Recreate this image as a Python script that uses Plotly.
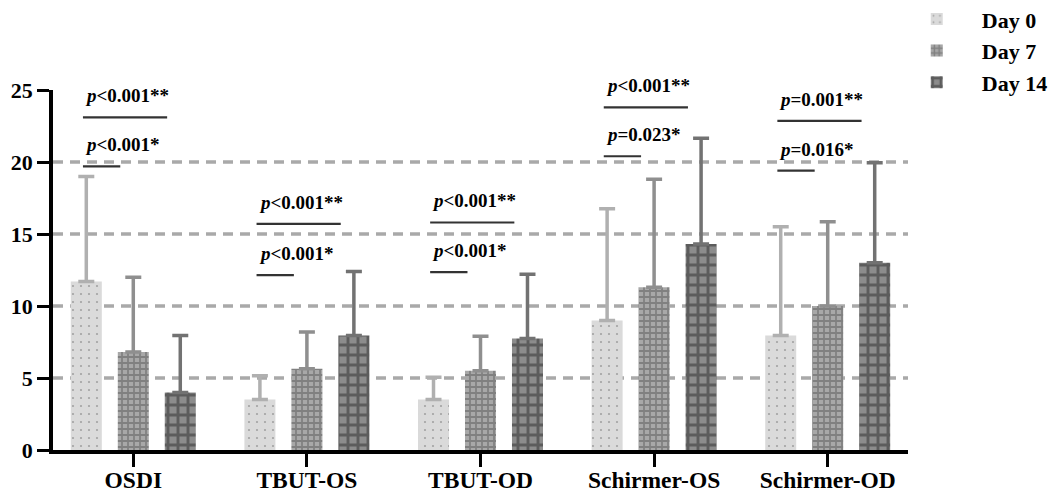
import plotly.graph_objects as go

CATEGORIES = ["OSDI", "TBUT-OS", "TBUT-OD", "Schirmer-OS", "Schirmer-OD"]
SERIES = ["Day 0", "Day 7", "Day 14"]

DAY0_MEAN = [11.7, 3.5, 3.5, 9.0, 7.95]
DAY0_SD = [7.3, 1.65, 1.55, 7.75, 7.55]
DAY7_MEAN = [6.8, 5.65, 5.5, 11.3, 10.0]
DAY7_SD = [5.2, 2.55, 2.4, 7.5, 5.85]
DAY14_MEAN = [4.0, 7.95, 7.75, 14.3, 13.0]
DAY14_SD = [3.95, 4.45, 4.45, 7.35, 6.95]

Y_TICKS = [0, 5, 10, 15, 20, 25]
GRID_VALUES = [5, 10, 15, 20]

# significance brackets (Day0 vs Day14 = long, Day0 vs Day7 = short)
LONG_Y = [23.1, 15.7, 15.8, 23.8, 22.85]
SHORT_Y = [19.7, 12.15, 12.35, 20.4, 19.4]
LONG_TEXT = ["<0.001**", "<0.001**", "<0.001**", "<0.001**", "=0.001**"]
SHORT_TEXT = ["<0.001*", "<0.001*", "<0.001*", "=0.023*", "=0.016*"]

FONT = "Liberation Serif"

means = [DAY0_MEAN, DAY7_MEAN, DAY14_MEAN]
sds = [DAY0_SD, DAY7_SD, DAY14_SD]
styles = [
    dict(bg="#dadada", fg="#a3a3a3", shape=".", size=8, solidity=0.06, err="#b0b0b0"),
    dict(bg="#a8a8a8", fg="#808080", shape="+", size=6, solidity=0.5, err="#8f8f8f"),
    dict(bg="#8c8c8c", fg="#5c5c5c", shape="+", size=10, solidity=0.5, err="#727272"),
]

fig = go.Figure()
for name, m, s, st in zip(SERIES, means, sds, styles):
    fig.add_trace(go.Bar(
        name=name, x=CATEGORIES, y=m,
        marker=dict(
            color=st["bg"], line=dict(width=0),
            pattern=dict(shape=st["shape"], fgcolor=st["fg"], bgcolor=st["bg"],
                         size=st["size"], solidity=st["solidity"], fillmode="replace"),
        ),
        error_y=dict(type="data", symmetric=False, array=s, arrayminus=[0] * len(s),
                     color=st["err"], thickness=3.5, width=8),
    ))

shapes = []
for g in GRID_VALUES:
    shapes.append(dict(type="line", xref="paper", yref="y", x0=0, x1=1, y0=g, y1=g,
                       line=dict(color="#a9a9a9", width=3.5, dash="10px,7px"), layer="below"))

annotations = []
LONG_L, LONG_R = -0.29, 0.195
SHORT_L, SHORT_R = -0.29, -0.075
for i, cat in enumerate(CATEGORIES):
    shapes.append(dict(type="line", xref="x", yref="y", x0=i + LONG_L, x1=i + LONG_R,
                       y0=LONG_Y[i], y1=LONG_Y[i], line=dict(color="#333333", width=2.2)))
    shapes.append(dict(type="line", xref="x", yref="y", x0=i + SHORT_L, x1=i + SHORT_R,
                       y0=SHORT_Y[i], y1=SHORT_Y[i], line=dict(color="#333333", width=2.2)))
    for yv, txt in [(LONG_Y[i], LONG_TEXT[i]), (SHORT_Y[i], SHORT_TEXT[i])]:
        annotations.append(dict(
            x=i + LONG_L, y=yv, xref="x", yref="y", xanchor="left", yanchor="bottom",
            yshift=9, showarrow=False,
            text="<b><i>p</i>" + txt.replace("<", "&lt;") + "</b>",
            font=dict(family=FONT, size=19, color="black"),
        ))

fig.update_layout(
    template="none",
    width=1055, height=492,
    margin=dict(l=53, r=147, t=90, b=42, autoexpand=False),
    paper_bgcolor="white", plot_bgcolor="white",
    barmode="group", bargap=0.188, bargroupgap=0.34,
    shapes=shapes, annotations=annotations,
    legend=dict(x=0.981, y=1.255, xanchor="left", yanchor="top",
                font=dict(family=FONT, size=22, color="black", weight="bold"),
                itemwidth=80, bgcolor="rgba(0,0,0,0)", tracegroupgap=0),
    xaxis=dict(
        showline=True, linecolor="black", linewidth=3.5, showgrid=False, zeroline=False,
        ticks="outside", ticklen=13, tickwidth=3, tickcolor="black",
        range=[-0.4625, 4.4625], automargin=False, ticklabelstandoff=-7,
        tickfont=dict(family=FONT, size=23.5, color="black", weight="bold"),
    ),
    yaxis=dict(
        range=[0, 25], tickvals=Y_TICKS, showline=True, linecolor="black", linewidth=3.5,
        showgrid=False, zeroline=False, ticks="outside", ticklen=12, tickwidth=3,
        tickcolor="black", automargin=False,
        tickfont=dict(family=FONT, size=22, color="black", weight="bold"),
    ),
)

fig.write_html(
    "out.html",
    config={"displayModeBar": False},
    post_script="document.body.style.margin='0';document.body.style.overflow='hidden';",
)
